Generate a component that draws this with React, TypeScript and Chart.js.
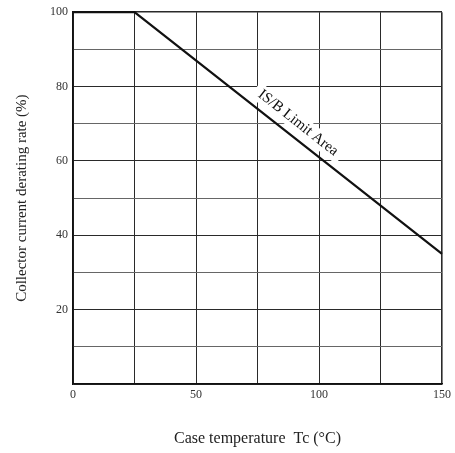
import React, { useEffect, useRef } from "react";
import { Chart, registerables } from "chart.js";

Chart.register(...registerables);

// Data
const caseTempC: number[] = [0, 25, 150];
const deratingPct: number[] = [100, 100, 35];
const xLabelTicks: number[] = [0, 50, 100, 150];
const yLabelTicks: number[] = [20, 40, 60, 80, 100];
const limitLabel = "IS/B Limit Area";
const limitLabelAtX = 88; // x value of the line point next to which the label sits

const SERIF = "'Liberation Serif', 'DejaVu Serif', serif";

const labelPlugin = {
  id: "limitLabel",
  beforeDatasetsDraw(chart: any) {
    const { ctx, scales } = chart;
    const xs = scales.x;
    const ys = scales.y;
    const x1 = xs.getPixelForValue(caseTempC[1]);
    const y1 = ys.getPixelForValue(deratingPct[1]);
    const x2 = xs.getPixelForValue(caseTempC[2]);
    const y2 = ys.getPixelForValue(deratingPct[2]);
    const ang = Math.atan2(y2 - y1, x2 - x1);
    const lx = xs.getPixelForValue(limitLabelAtX);
    const t = (lx - x1) / (x2 - x1);
    const ly = y1 + t * (y2 - y1);
    const off = 14;
    const cx = lx + Math.sin(ang) * off;
    const cy = ly - Math.cos(ang) * off;
    ctx.save();
    ctx.translate(cx, cy);
    ctx.rotate(ang);
    ctx.font = `15px ${SERIF}`;
    const w = ctx.measureText(limitLabel).width;
    ctx.fillStyle = "#ffffff";
    ctx.fillRect(-w / 2 - 6, -9, w + 12, 18);
    ctx.fillStyle = "#111";
    ctx.textAlign = "center";
    ctx.textBaseline = "middle";
    ctx.fillText(limitLabel, 0, 0);
    ctx.restore();
  },
};

export default function App() {
  const ref = useRef<HTMLCanvasElement | null>(null);
  useEffect(() => {
    if (!ref.current) return;
    const chart = new Chart(ref.current, {
      type: "scatter",
      data: {
        datasets: [
          {
            data: caseTempC.map((x, i) => ({ x, y: deratingPct[i] })),
            showLine: true,
            borderColor: "#111",
            borderWidth: 2.2,
            pointRadius: 0,
            tension: 0,
            clip: false,
          },
        ],
      },
      options: {
        animation: false,
        responsive: true,
        maintainAspectRatio: false,
        layout: { padding: { top: 10, right: 13, left: 0, bottom: 0 } },
        plugins: { legend: { display: false }, tooltip: { enabled: false } },
        scales: {
          x: {
            type: "linear",
            min: 0,
            max: 150,
            ticks: {
              stepSize: 25,
              autoSkip: false,
              maxRotation: 0,
              padding: 4,
              color: "#333",
              font: { family: SERIF, size: 12 },
              callback: (v: any) => (xLabelTicks.includes(Number(v)) ? String(v) : ""),
            },
            grid: {
              drawTicks: false,
              color: "#2a2a2a",
              lineWidth: (c: any) => (c.tick && c.tick.value === 150 ? 1.6 : 1),
            },
            border: { display: true, color: "#111", width: 1.6 },
            title: {
              display: true,
              text: "Case temperature  Tc (°C)",
              color: "#222",
              font: { family: SERIF, size: 16 },
              padding: { top: 0, bottom: 5 },
            },
            afterFit: (s: any) => {
              s.height = 69;
            },
          },
          y: {
            type: "linear",
            min: 0,
            max: 100,
            ticks: {
              stepSize: 10,
              autoSkip: false,
              padding: 5,
              color: "#333",
              font: { family: SERIF, size: 12 },
              callback: (v: any) => (yLabelTicks.includes(Number(v)) ? String(v) : ""),
            },
            grid: {
              drawTicks: false,
              color: (c: any) => (c.tick && c.tick.value % 20 === 0 ? "#2a2a2a" : "#666"),
              lineWidth: (c: any) => (c.tick && c.tick.value === 100 ? 1.6 : 1),
            },
            border: { display: true, color: "#111", width: 1.6 },
            title: {
              display: true,
              text: "Collector current derating rate (%)",
              color: "#222",
              font: { family: SERIF, size: 15 },
              padding: { top: 13, bottom: 0 },
            },
            afterFit: (s: any) => {
              s.width = 73;
            },
          },
        },
      },
      plugins: [labelPlugin],
    } as any);
    return () => chart.destroy();
  }, []);
  return (
    <div style={{ position: "absolute", left: 0, top: 0, width: 455, height: 453, background: "#fff" }}>
      <canvas ref={ref} />
    </div>
  );
}
